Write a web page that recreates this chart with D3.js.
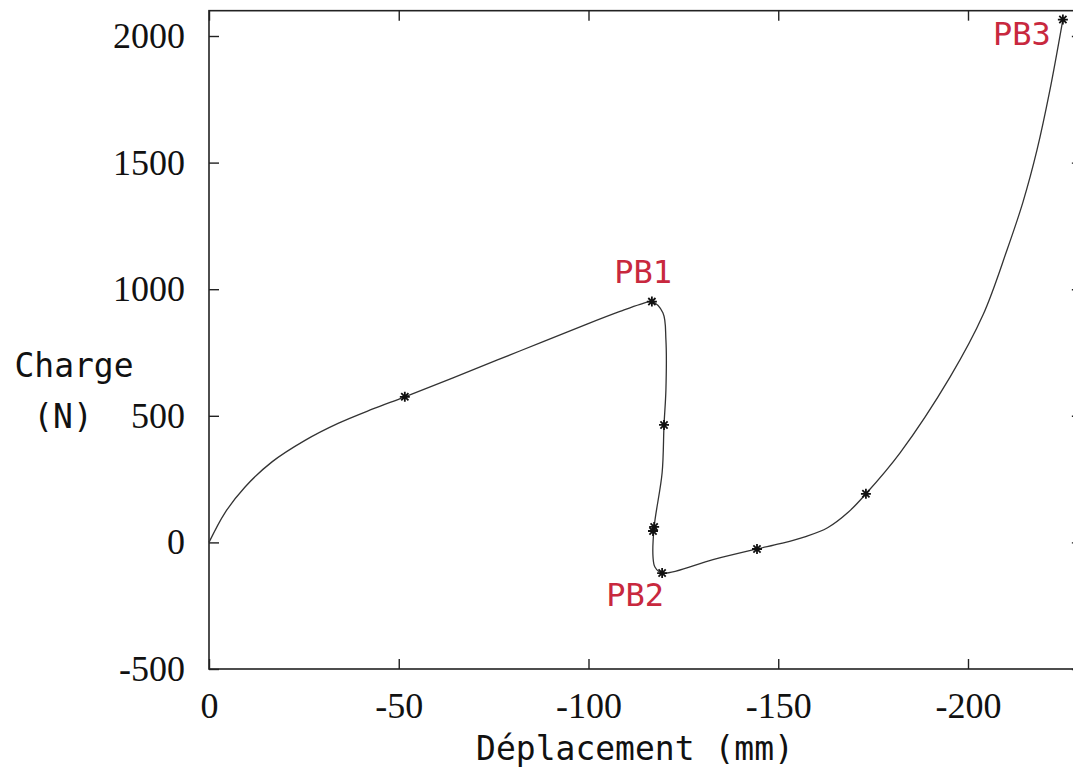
<!DOCTYPE html>
<html>
<head>
<meta charset="utf-8">
<script src="https://cdn.jsdelivr.net/npm/d3@7"></script>
<style>
  html, body { margin: 0; padding: 0; background: #fff; }
  svg { display: block; }
</style>
</head>
<body>
<svg id="chart" width="1073" height="772"></svg>
<script>
// ---- Data ----
const curveX = [0, -4.2, -9.5, -16.6, -25.3, -34.0, -43.0, -51.6, -64.3, -81.9, -99.6, -108.3, -113.6, -116.7,
                -119.6, -120.4, -120.4, -119.9, -119.4, -117.3, -117.0, -117.5, -119.4,
                -132.8, -144.4, -150.5, -157.0, -163.0, -168.5, -173.1, -182.1, -195.3, -204.0, -210.3, -214.5, -218.2, -221.5, -225.0];
const curveY = [0, 117, 219, 318, 403, 470, 526, 575, 650, 756, 862, 912, 940, 951,
                907, 800, 603, 464, 275, 61, -57, -97, -121,
                -68, -26, -5, 22, 58, 120, 192, 354, 654, 900, 1156, 1345, 1551, 1780, 2065];

const markerX = [-51.6, -116.7, -119.9, -117.3, -117.0, -119.4, -144.4, -173.1, -225.0];
const markerY = [575, 951, 464, 61, 45, -121, -26, 192, 2065];

const pointLabels = ["PB1", "PB2", "PB3"];
const pointLabelX = [-114.4, -112.3, -214.2];
const pointLabelY = [1025, -250, 1964];

const xTicks = [0, -50, -100, -150, -200];
const yTicks = [-500, 0, 500, 1000, 1500, 2000];
const xTitle = "Déplacement (mm)";
const yTitle = ["Charge", "(N)"];

// ---- Layout ----
const svg = d3.select("#chart");
const x = d3.scaleLinear().domain([0, -230]).range([209, 209 + 230 * 3.795]);
const y = d3.scaleLinear().domain([-500, 2100]).range([669, 669 - 2600 * 0.2532]);

const frameColor = "#222";
const serif = "'Liberation Serif', 'Times New Roman', serif";
const mono = "'DejaVu Sans Mono', monospace";
const red = "#c8283e";

// frame
svg.append("rect")
  .attr("x", x(0)).attr("y", y(2100))
  .attr("width", x(-230) - x(0)).attr("height", y(-500) - y(2100))
  .attr("fill", "none").attr("stroke", frameColor).attr("stroke-width", 1.6);

function styleAxis(g, showText) {
  g.select(".domain").remove();
  g.selectAll(".tick line").attr("stroke", frameColor).attr("stroke-width", 1.4);
  g.selectAll(".tick text")
    .attr("fill", "#111")
    .style("font-family", serif)
    .style("font-size", "36px")
    .style("display", showText ? null : "none");
}

const fmt = d => String(d);
svg.append("g").attr("transform", `translate(${x(0)},0)`)
  .call(d3.axisLeft(y).tickValues(yTicks).tickSize(-10).tickPadding(24).tickFormat(fmt))
  .call(g => styleAxis(g, true));
svg.append("g").attr("transform", `translate(${x(-230)},0)`)
  .call(d3.axisRight(y).tickValues(yTicks).tickSize(-10))
  .call(g => styleAxis(g, false));
svg.append("g").attr("transform", `translate(0,${y(-500)})`)
  .call(d3.axisBottom(x).tickValues(xTicks).tickSize(-10).tickPadding(23).tickFormat(fmt))
  .call(g => styleAxis(g, true));
svg.append("g").attr("transform", `translate(0,${y(2100)})`)
  .call(d3.axisTop(x).tickValues(xTicks).tickSize(-10))
  .call(g => styleAxis(g, false));

// curve
const pts = curveX.map((d, i) => [d, curveY[i]]);
const line = d3.line().x(d => x(d[0])).y(d => y(d[1])).curve(d3.curveCatmullRom.alpha(0.5));
svg.append("path").datum(pts)
  .attr("d", line)
  .attr("fill", "none").attr("stroke", "#333").attr("stroke-width", 1.3);

// markers (asterisk: plus + times)
const r = 5;
const star = `M${-r},0L${r},0M0,${-r}L0,${r}M${-r*0.72},${-r*0.72}L${r*0.72},${r*0.72}M${-r*0.72},${r*0.72}L${r*0.72},${-r*0.72}`;
svg.append("g").selectAll("path").data(markerX.map((d, i) => [d, markerY[i]]))
  .join("path")
  .attr("transform", d => `translate(${x(d[0])},${y(d[1])})`)
  .attr("d", star)
  .attr("fill", "none").attr("stroke", "#111").attr("stroke-width", 1.8);

// point labels
svg.append("g").selectAll("text").data(pointLabels)
  .join("text")
  .attr("x", (d, i) => x(pointLabelX[i]))
  .attr("y", (d, i) => y(pointLabelY[i]))
  .attr("text-anchor", "middle")
  .attr("fill", red)
  .style("font-family", mono)
  .style("font-size", "32px")
  .text(d => d);

// axis titles
svg.append("text")
  .attr("x", 635).attr("y", 760)
  .attr("text-anchor", "middle")
  .attr("fill", "#111")
  .style("font-family", mono).style("font-size", "33px")
  .text(xTitle);
svg.append("text")
  .attr("x", 74).attr("y", 377)
  .attr("text-anchor", "middle")
  .attr("fill", "#111")
  .style("font-family", mono).style("font-size", "33px")
  .text(yTitle[0]);
svg.append("text")
  .attr("x", 63).attr("y", 428)
  .attr("text-anchor", "middle")
  .attr("fill", "#111")
  .style("font-family", mono).style("font-size", "33px")
  .text(yTitle[1]);
</script>
</body>
</html>
